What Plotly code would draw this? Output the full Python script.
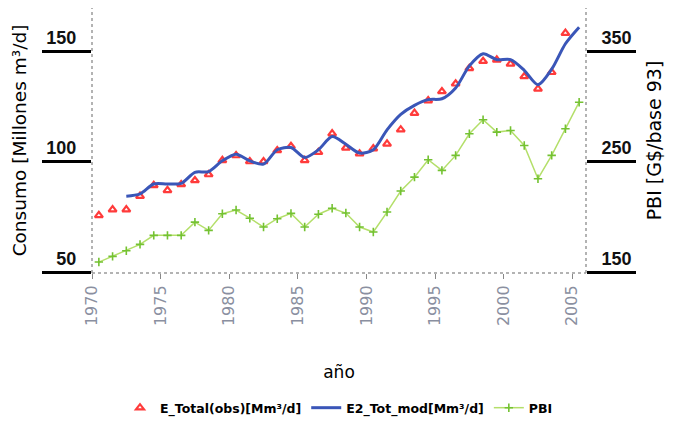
import plotly.graph_objects as go

# ---- data ----
obs_years = [1970.5, 1971.5, 1972.5, 1973.5, 1974.5, 1975.5, 1976.5, 1977.5, 1978.5, 1979.5,
             1980.5, 1981.5, 1982.5, 1983.5, 1984.5, 1985.5, 1986.5, 1987.5, 1988.5, 1989.5,
             1990.5, 1991.5, 1992.5, 1993.5, 1994.5, 1995.5, 1996.5, 1997.5, 1998.5, 1999.5,
             2000.5, 2001.5, 2002.5, 2003.5, 2004.5]
e_total_obs = [75.8, 78.4, 78.4, 84.5, 89.4, 87.1, 89.8, 91.6, 94.3, 100.7,
               102.9, 100.2, 100.2, 105.2, 107.1, 100.7, 104.4, 112.8, 106.4, 103.7,
               106.0, 108.2, 114.6, 122.1, 127.8, 131.9, 135.4, 142.4, 145.6, 146.2,
               144.4, 138.7, 133.1, 140.6, 158.3]

mod_years = [1972.5, 1973.5, 1974.5, 1975.5, 1976.5, 1977.5, 1978.5, 1979.5, 1980.5, 1981.5,
             1982.5, 1983.5, 1984.5, 1985.5, 1986.5, 1987.5, 1988.5, 1989.5, 1990.5, 1991.5,
             1992.5, 1993.5, 1994.5, 1995.5, 1996.5, 1997.5, 1998.5, 1999.5, 2000.5, 2001.5,
             2002.5, 2003.5, 2004.5, 2005.5]
e2_tot_mod = [84.5, 85.5, 90.0, 90.0, 90.3, 95.3, 95.6, 100.5, 103.5, 100.5,
              99.0, 105.5, 106.5, 102.0, 105.5, 111.5, 108.0, 104.0, 105.5, 114.5,
              121.5, 125.6, 128.2, 128.6, 133.5, 143.5, 149.0, 146.3, 146.3, 141.5,
              135.0, 142.0, 153.5, 161.0]

pbi_years = [1970.5, 1971.5, 1972.5, 1973.5, 1974.5, 1975.5, 1976.5, 1977.5, 1978.5, 1979.5,
             1980.5, 1981.5, 1982.5, 1983.5, 1984.5, 1985.5, 1986.5, 1987.5, 1988.5, 1989.5,
             1990.5, 1991.5, 1992.5, 1993.5, 1994.5, 1995.5, 1996.5, 1997.5, 1998.5, 1999.5,
             2000.5, 2001.5, 2002.5, 2003.5, 2004.5, 2005.5]
pbi = [159.3, 164.5, 169.5, 175.3, 183.5, 183.5, 183.5, 195.5, 188.0, 203.1,
       206.4, 199.0, 191.0, 198.6, 203.4, 191.0, 202.6, 208.0, 203.7, 191.0,
       186.5, 204.6, 223.6, 236.2, 252.0, 242.3, 255.9, 275.5, 288.2, 277.0,
       278.5, 264.9, 234.8, 255.9, 280.0, 304.1]

x_ticks = [1970, 1975, 1980, 1985, 1990, 1995, 2000, 2005]
left_ticks = [50, 100, 150]
right_ticks = [150, 250, 350]

fig = go.Figure()

fig.add_trace(go.Scatter(
    x=obs_years, y=e_total_obs, mode="markers", name="E_Total(obs)[Mm³/d]",
    marker=dict(symbol="triangle-up-open", color="#ff3b3b", size=7, line=dict(width=2.2, color="#ff3b3b")),
))
fig.add_trace(go.Scatter(
    x=mod_years, y=e2_tot_mod, mode="lines", name="E2_Tot_mod[Mm³/d]",
    line=dict(color="#3a56b8", width=3, shape="spline", smoothing=0.8),
))
fig.add_trace(go.Scatter(
    x=pbi_years, y=pbi, mode="lines+markers", name="PBI", yaxis="y2",
    line=dict(color="#b4df6a", width=1.5),
    marker=dict(symbol="cross-thin", size=6, line=dict(width=1.6, color="#74c232")),
))

axis_line = dict(type="line", line=dict(color="#9a9a9a", width=1.5, dash="dot"))
shapes = [
    dict(axis_line, xref="paper", yref="paper", x0=0, x1=0, y0=0, y1=1),
    dict(axis_line, xref="paper", yref="paper", x0=1, x1=1, y0=0, y1=1),
    dict(axis_line, xref="paper", yref="paper", x0=0, x1=1, y0=0, y1=0),
]

fig.update_layout(
    width=672, height=415,
    margin=dict(l=84, r=94, t=0, b=150),
    paper_bgcolor="white", plot_bgcolor="white",
    font=dict(family="DejaVu Sans, sans-serif", color="black"),
    showlegend=True,
    legend=dict(orientation="h", x=0.5, xanchor="center", yref="container", y=0.036, yanchor="middle",
                font=dict(size=12.5, weight="bold", color="black"), itemwidth=30),
    shapes=shapes,
    xaxis=dict(
        range=[1970, 2006], tickvals=x_ticks, ticktext=[str(v) for v in x_ticks],
        tickangle=-90, ticks="outside", ticklen=5, tickcolor="#888888",
        tickfont=dict(size=16, color="#8a8fa0"),
        showgrid=False, zeroline=False, showline=False, automargin=False,
        title=dict(text="año", font=dict(size=17, color="black"), standoff=40),
    ),
    yaxis=dict(
        range=[49.7, 169.7], tickvals=left_ticks, ticks="outside", ticklen=49, tickwidth=3,
        tickcolor="black", tickfont=dict(family="Liberation Sans, Arial, sans-serif", size=18, weight="bold", color="#111111"),
        ticklabelstandoff=-38, ticklabelshift=-14,
        showgrid=False, zeroline=False, showline=False, automargin=False,
        title=dict(text="Consumo [Millones m³/d]", font=dict(size=18.5, color="black"), standoff=14),
    ),
    yaxis2=dict(
        range=[149.4, 389.4], tickvals=right_ticks, overlaying="y", side="right",
        ticks="outside", ticklen=49, tickwidth=3, tickcolor="black",
        tickfont=dict(family="Liberation Sans, Arial, sans-serif", size=18, weight="bold", color="#111111"),
        ticklabelstandoff=-38, ticklabelshift=-14,
        showgrid=False, zeroline=False, showline=False, automargin=False,
        title=dict(text="PBI [G$/base 93]", font=dict(size=19, color="black"), standoff=17),
    ),
)

fig.write_html("out.html")
